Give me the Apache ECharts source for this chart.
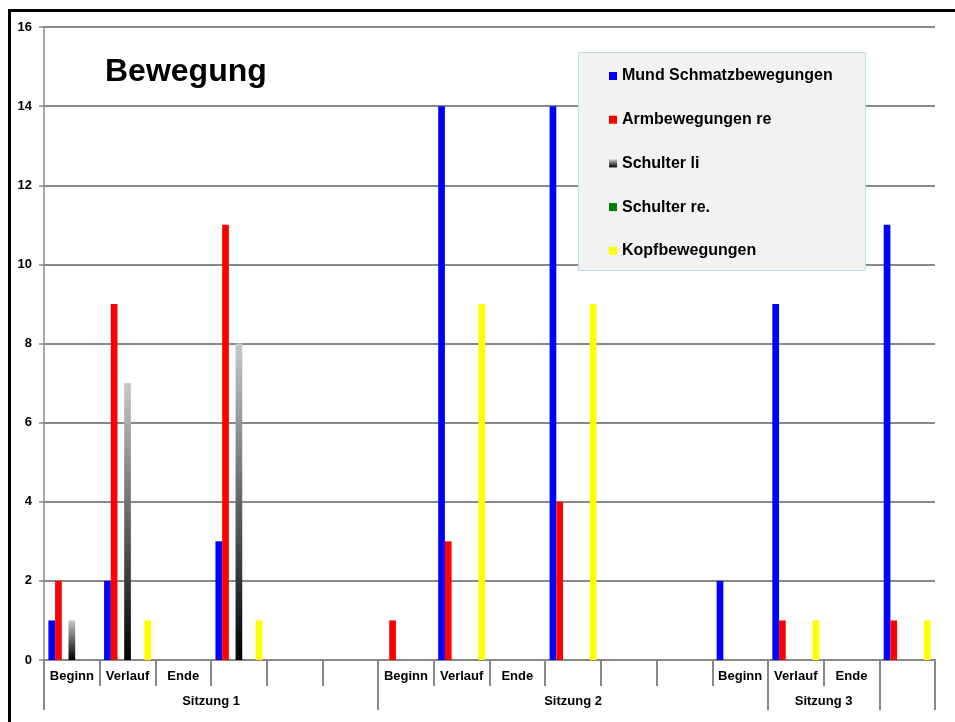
<!DOCTYPE html>
<html>
<head>
<meta charset="utf-8">
<title>Bewegung</title>
<script src="https://cdn.jsdelivr.net/npm/echarts@6/dist/echarts.min.js"></script>
<style>
  html, body { margin: 0; padding: 0; background: #ffffff; }
  #chart { width: 955px; height: 722px; }
</style>
</head>
<body>
<div id="chart"></div>
<script>
// Category labels along the x axis (one per column)
const categories = ['Beginn', 'Verlauf', 'Ende', '', '', '',
                    'Beginn', 'Verlauf', 'Ende', '', '', '',
                    'Beginn', 'Verlauf', 'Ende', ''];
// Session groups shown in the second label row and how many columns each covers
const groupNames = ['Sitzung 1', 'Sitzung 2', 'Sitzung 3', ''];
const groupSizes = [6, 7, 2, 1];

// Counts per column
const mundSchmatz = [1, 2, 0, 3, 0, 0, 0, 14, 0, 14, 0, 0, 2, 9, 0, 11];
const armRe       = [2, 9, 0, 11, 0, 0, 1, 3, 0, 4, 0, 0, 0, 1, 0, 1];
const schulterLi  = [1, 7, 0, 8, 0, 0, 0, 0, 0, 0, 0, 0, 0, 0, 0, 0];
const schulterRe  = [0, 0, 0, 0, 0, 0, 0, 0, 0, 0, 0, 0, 0, 0, 0, 0];
const kopf        = [0, 1, 0, 1, 0, 0, 0, 9, 0, 9, 0, 0, 0, 1, 0, 1];

const seriesNames = ['Mund Schmatzbewegungen', 'Armbewegungen re', 'Schulter li', 'Schulter re.', 'Kopfbewegungen'];

const FONT = 'Liberation Sans, Arial, sans-serif';
const GRID_GRAY = '#888888';

// Group boundaries and centres in column units
const groupEdges = [0];
groupSizes.forEach(function (s) { groupEdges.push(groupEdges[groupEdges.length - 1] + s); });
const groupCenters = groupSizes.map(function (s, i) { return groupEdges[i] + s / 2; });

const chart = echarts.init(document.getElementById('chart'), null, { renderer: 'canvas' });

function barSeries(name, data, color) {
  return {
    name: name,
    type: 'bar',
    xAxisIndex: 0,
    yAxisIndex: 0,
    data: data,
    barGap: '0%',
    barCategoryGap: '15.8%',
    itemStyle: { color: color },
    emphasis: { disabled: true }
  };
}
// Empty column slot between series (keeps the bar spacing of the original layout)
function slot() {
  return { type: 'bar', xAxisIndex: 0, yAxisIndex: 0, data: [], barGap: '0%', barCategoryGap: '15.8%', silent: true };
}

const grayGradient = new echarts.graphic.LinearGradient(0, 0, 0, 1, [
  { offset: 0, color: '#c8c8c8' },
  { offset: 1, color: '#000000' }
]);

const option = {
  animation: false,
  backgroundColor: '#ffffff',
  title: {
    text: 'Bewegung',
    left: 105,
    top: 56,
    padding: 0,
    textStyle: { fontFamily: FONT, fontSize: 32, fontWeight: 'bold', color: '#000000', lineHeight: 32 }
  },
  legend: {
    data: seriesNames,
    orient: 'vertical',
    left: 609,
    top: 68,
    padding: 0,
    itemWidth: 8,
    itemHeight: 8,
    itemGap: 27.7,
    icon: 'rect',
    selectedMode: false,
    z: 20,
    textStyle: { fontFamily: FONT, fontSize: 16, fontWeight: 'bold', color: '#000000', lineHeight: 16 }
  },
  grid: { left: 44, right: 20, top: 27, bottom: 62, containLabel: false },
  xAxis: [
    {
      type: 'category',
      data: categories,
      boundaryGap: true,
      axisLine: { show: true, lineStyle: { color: GRID_GRAY, width: 2 } },
      axisTick: { show: true, interval: 0, length: 26, alignWithLabel: false, lineStyle: { color: GRID_GRAY, width: 2 } },
      axisLabel: { interval: 0, margin: 10, fontFamily: FONT, fontSize: 13, fontWeight: 'bold', color: '#000000' },
      splitLine: { show: false }
    },
    {
      type: 'value',
      position: 'bottom',
      offset: 26,
      min: 0,
      max: categories.length,
      axisLine: { show: false },
      splitLine: { show: false },
      axisTick: { show: true, customValues: groupEdges, length: 24, lineStyle: { color: GRID_GRAY, width: 2 } },
      axisLabel: {
        show: true,
        customValues: groupCenters,
        margin: 9,
        fontFamily: FONT, fontSize: 13, fontWeight: 'bold', color: '#000000',
        formatter: function (v) {
          const i = groupCenters.indexOf(v);
          return i >= 0 ? groupNames[i] : '';
        }
      }
    }
  ],
  yAxis: {
    type: 'value',
    min: 0,
    max: 16,
    interval: 2,
    axisLine: { show: true, lineStyle: { color: GRID_GRAY, width: 1.5 } },
    axisTick: { show: true, length: 5, lineStyle: { color: GRID_GRAY, width: 1.5 } },
    axisLabel: { margin: 12, fontFamily: FONT, fontSize: 13, fontWeight: 'bold', color: '#000000' },
    splitLine: { show: true, lineStyle: { color: GRID_GRAY, width: 2 } }
  },
  graphic: [
    {
      type: 'rect',
      z: 10,
      shape: { x: 578.5, y: 52.5, width: 287, height: 218 },
      style: { fill: '#f2f2f2', stroke: '#b7dfe3', lineWidth: 1 }
    },
    {
      type: 'polyline',
      z: 30,
      shape: { points: [[9.5, 722], [9.5, 10.5], [955, 10.5]] },
      style: { stroke: '#000000', lineWidth: 3, fill: null }
    }
  ],
  series: [
    barSeries(seriesNames[0], mundSchmatz, '#0000ff'),
    barSeries(seriesNames[1], armRe, '#ff0000'),
    slot(),
    barSeries(seriesNames[2], schulterLi, grayGradient),
    barSeries(seriesNames[3], schulterRe, '#008000'),
    slot(),
    barSeries(seriesNames[4], kopf, '#ffff00')
  ]
};

chart.setOption(option);
</script>
</body>
</html>
